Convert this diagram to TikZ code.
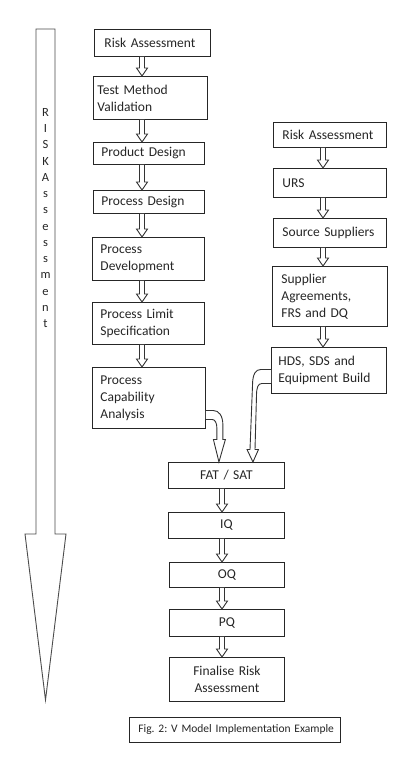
\documentclass[tikz,border=0pt]{standalone}
\usepackage{fontspec}
\setmainfont{Carlito}
\usetikzlibrary{calc}
\frenchspacing
\newcommand\mkbox[8][left]{%
  % #1 align, #2 name, #3 x1, #4 y1, #5 x2, #6 y2, #7 pad, #8 text
  \pgfmathsetmacro\bw{#5-#3-2*#7}%
  \pgfmathsetmacro\bh{#6-#4}%
  \node[box, align=#1, anchor=north west, inner xsep=#7pt, text width=\bw pt,
        minimum height=\bh pt] (#2) at (#3,#4) {#8};}
\newcommand\harrow[3]{%
  \draw[conn] let \p1=(#1.south), \p2=(#2.north) in
    ({#3pt-2.5pt},\y1) -- ({#3pt-2.5pt},{\y2+8pt}) -- ({#3pt-5.5pt},{\y2+8pt})
    -- ({#3pt},\y2) -- ({#3pt+5.5pt},{\y2+8pt}) -- ({#3pt+2.5pt},{\y2+8pt})
    -- ({#3pt+2.5pt},\y1);}
\begin{document}
\begin{tikzpicture}[x=1pt,y=-1pt,
  box/.style={draw=black!85, line width=0.9pt, text=black!85, inner ysep=0pt,
    font=\fontsize{13.5}{17}\selectfont},
  conn/.style={draw=black!80, line width=0.9pt, line join=miter, fill=white},
  bigarrow/.style={draw=black!70, line width=0.9pt},
  vtext/.style={text=black!85, align=center, inner sep=0pt,
    font=\fontsize{12.5}{16.25}\selectfont},
  caption/.style={draw=black!85, line width=0.8pt, text=black!85, inner ysep=0pt,
    font=\fontsize{11.5}{13}\selectfont}]
\useasboundingbox (0,0) rectangle (415,770);
\fill[white] (0,0) rectangle (415,770);

% big risk arrow
\draw[bigarrow] (36,29) -- (55,29) -- (55,534) -- (66,534) -- (45.5,700)
  -- (25,534) -- (36,534) -- cycle;
\node[vtext] (risk) at (45.5,218) {R\\I\\S\\K\\A\\s\\s\\e\\s\\s\\m\\e\\n\\t};

% left column
\mkbox{ra1}{94}{29}{210}{56}{10}{Risk Assessment}
\mkbox{tmv}{93}{76}{207}{119}{4}{Test Method\\Validation}
\mkbox{pd}{93}{142}{204}{164}{8}{Product Design}
\mkbox{psd}{93}{190}{204}{213}{8}{Process Design}
\mkbox{pdev}{92}{237}{204}{280}{8}{Process\\Development}
\mkbox{pls}{92}{302}{204}{344}{8}{Process Limit\\Specification}
\mkbox{pca}{92}{367}{205}{428}{8}{Process\\Capability\\Analysis}

% right column
\mkbox{ra2}{273}{122}{386}{147}{9}{Risk Assessment}
\mkbox{urs}{273}{168}{386}{197}{9}{URS}
\mkbox{ss}{273}{218}{386}{247}{9}{Source Suppliers}
\mkbox{sa}{272}{266}{387}{326}{9}{Supplier\\Agreements,\\FRS and DQ}
\mkbox{hds}{271}{347}{386}{393}{7}{HDS, SDS and\\Equipment Build}

% bottom column
\mkbox[center]{fat}{168}{462}{284}{488}{4}{FAT / SAT}
\mkbox[center]{iq}{168}{512}{284}{538}{4}{IQ}
\mkbox[center]{oq}{169}{562}{284}{587}{4}{OQ}
\mkbox[center]{pq}{169}{609}{284}{636}{4}{PQ}
\mkbox[center]{fin}{169}{657}{284}{701}{4}{Finalise Risk\\Assessment}

% caption
\pgfmathsetmacro\cw{340-129-18}
\node[caption, anchor=north west, inner xsep=9pt, text width=\cw pt, align=left,
  minimum height=25pt] (cap) at (129,717) {\mbox{Fig. 2: V Model Implementation Example}};

% straight arrows
\harrow{ra1}{tmv}{142}
\harrow{tmv}{pd}{142}
\harrow{pd}{psd}{142}
\harrow{psd}{pdev}{142}
\harrow{pdev}{pls}{142}
\harrow{pls}{pca}{142}
\harrow{ra2}{urs}{323}
\harrow{urs}{ss}{323}
\harrow{ss}{sa}{323}
\harrow{sa}{hds}{323}
\harrow{fat}{iq}{222}
\harrow{iq}{oq}{222}
\harrow{oq}{pq}{222}
\harrow{pq}{fin}{222}

% curved arrow from Process Capability Analysis to FAT / SAT
\begin{scope}[shift={(pca.east)}]
\draw[conn] (0,12.5) -- (7,12.5) .. controls (13,12.5) and (17,17.5) .. (17,27.5)
  -- (17,41.5) -- (19.5,41.5) -- ([xshift=-7.5pt]fat.north) -- (7.5,41.5)
  -- (11,41.5) -- (11,30.5) .. controls (11,24.5) and (9,21.5) .. (6,21.5)
  -- (0,21.5);
\end{scope}
% curved arrow from HDS box to FAT / SAT
\begin{scope}[shift={(hds.west)}]
\draw[conn] (0,-1) -- (-10,-1) .. controls (-15,-1) and (-18.5,3) .. (-18.5,15)
  -- (-21,79) -- (-24,79) -- ([xshift=26.5pt]fat.north) -- (-12.5,79)
  -- (-16,79) -- (-14.5,25) .. controls (-14.5,17) and (-13,13) .. (-9,13)
  -- (0,13);
\end{scope}
\end{tikzpicture}
\end{document}
